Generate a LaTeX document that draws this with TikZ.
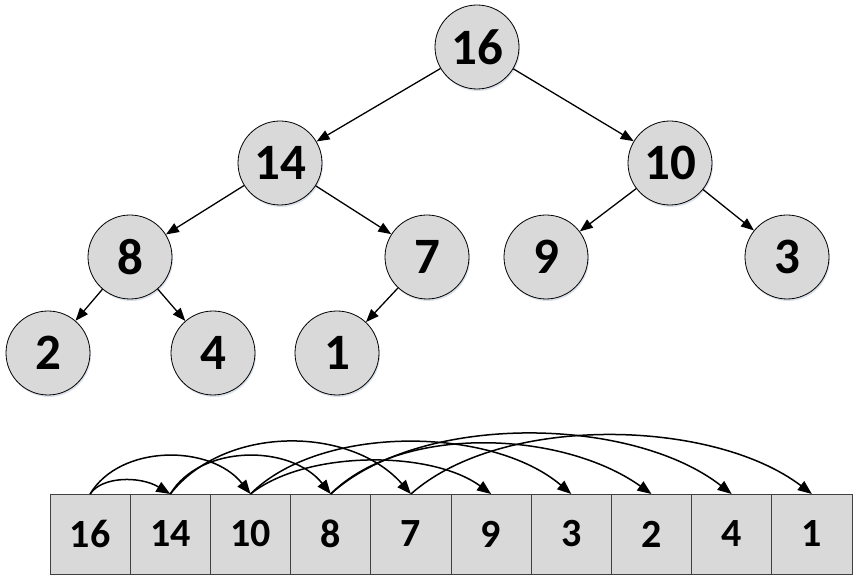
\documentclass[tikz,border=0pt]{standalone}
\usepackage{fontspec}
\setmainfont{Carlito}
\usetikzlibrary{arrows.meta,shadows}
\definecolor{nodegray}{HTML}{D9D9D9}
\definecolor{cellborder}{HTML}{404040}
\definecolor{shadowcol}{HTML}{B8C4D6}
\begin{document}
\begin{tikzpicture}[x=1pt,y=-1pt,
  treenode/.style={circle, draw=black, line width=0.8pt, fill=nodegray, minimum size=84pt, inner sep=0pt,
    drop shadow={shadow xshift=1pt, shadow yshift=-2pt, fill=shadowcol, opacity=0.5},
    font=\fontsize{51}{51}\selectfont\bfseries},
  cell/.style={rectangle, draw=cellborder, line width=1pt, fill=nodegray, minimum width=80.2pt, minimum height=80pt,
    inner sep=0pt, outer sep=0pt, font=\fontsize{40}{40}\selectfont\bfseries},
  edge/.style={line width=1.3pt, -{Triangle[length=13pt,width=10pt]}},
  arcline/.style={line width=1.5pt, -{Triangle[length=14pt,width=11pt]}}]
\useasboundingbox (0,0) rectangle (860,585);

% tree
\node[treenode] (t16) at (477,47) {16};
\node[treenode] (t14) at (280,163) {14};
\node[treenode] (t10) at (670,163) {10};
\node[treenode] (t8) at (130,257) {8};
\node[treenode] (t7) at (427,257) {7};
\node[treenode] (t9) at (546,257) {9};
\node[treenode] (t3) at (787,257) {3};
\node[treenode] (t2) at (48,353) {2};
\node[treenode] (t4) at (213,353) {4};
\node[treenode] (t1) at (337,353) {1};

\draw[edge] (t16) -- (t14);
\draw[edge] (t16) -- (t10);
\draw[edge] (t14) -- (t8);
\draw[edge] (t14) -- (t7);
\draw[edge] (t10) -- (t9);
\draw[edge] (t10) -- (t3);
\draw[edge] (t8) -- (t2);
\draw[edge] (t8) -- (t4);
\draw[edge] (t7) -- (t1);

% array
\node[cell] (a1) at (90.1,534) {16};
\node[cell] (a2) at (170.3,534) {14};
\node[cell] (a3) at (250.5,534) {10};
\node[cell] (a4) at (330.7,534) {8};
\node[cell] (a5) at (410.9,534) {7};
\node[cell] (a6) at (491.1,534) {9};
\node[cell] (a7) at (571.3,534) {3};
\node[cell] (a8) at (651.5,534) {2};
\node[cell] (a9) at (731.7,534) {4};
\node[cell] (a10) at (811.9,534) {1};

\draw[arcline] (a1.north) .. controls +(12,-18) and +(-30,-18) .. (a2.north);
\draw[arcline] (a1.north) .. controls +(30,-50) and +(-40,-50) .. (a3.north);
\draw[arcline] (a2.north) .. controls +(30,-50) and +(-40,-50) .. (a4.north);
\draw[arcline] (a2.north) .. controls +(55,-70) and +(-60,-68) .. (a5.north);
\draw[arcline] (a3.north) .. controls +(55,-44) and +(-60,-44) .. (a6.north);
\draw[arcline] (a3.north) .. controls +(70,-70) and +(-80,-68) .. (a7.north);
\draw[arcline] (a4.north) .. controls +(70,-70) and +(-90,-64) .. (a8.north);
\draw[arcline] (a4.north) .. controls +(90,-82) and +(-100,-78) .. (a9.north);
\draw[arcline] (a5.north) .. controls +(90,-80) and +(-100,-76) .. (a10.north);
\end{tikzpicture}
\end{document}
